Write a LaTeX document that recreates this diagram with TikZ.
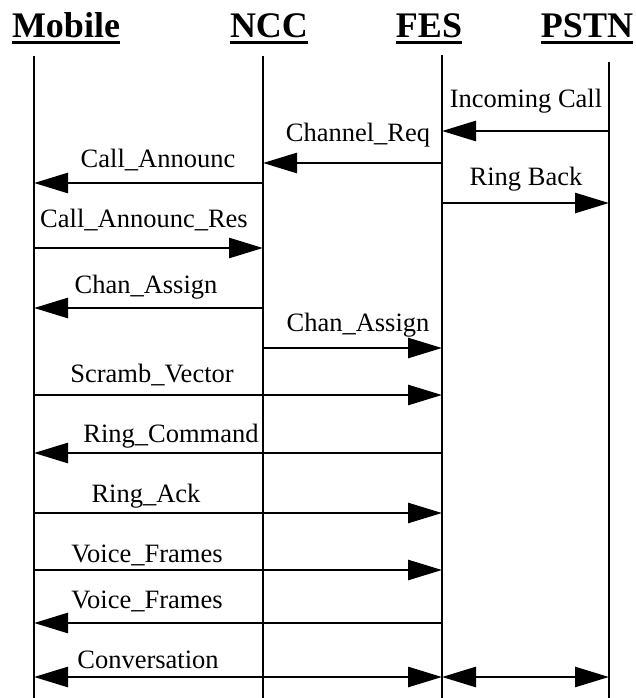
\documentclass[tikz,border=0pt]{standalone}
\usepackage{fontspec}
\setmainfont{Liberation Serif}
\usetikzlibrary{arrows.meta}
\begin{document}
\begin{tikzpicture}[x=1pt,y=-1pt,
  life/.style={line width=2.8pt},
  msg/.style={line width=2.7pt,-{Triangle[length=34pt,width=20pt]}},
  dmsg/.style={line width=2.7pt,{Triangle[length=34pt,width=20pt]}-{Triangle[length=34pt,width=20pt]}},
  lbl/.style={anchor=base,inner sep=0pt,font=\fontsize{26.5}{26.5}\selectfont},
  hdr/.style={anchor=base,inner sep=0pt,font=\fontsize{36}{36}\selectfont\bfseries},
  uline/.style={line width=2.8pt}]
\useasboundingbox (0,0) rectangle (635,698);
% headers
\node[hdr] (hmob) at (66,38) {Mobile};
\node[hdr] (hncc) at (269,38) {NCC};
\node[hdr] (hfes) at (429,38) {FES};
\node[hdr] (hpstn) at (587,38) {PSTN};
\foreach \h in {hmob,hncc,hfes,hpstn}
  \draw[uline] ([yshift=-4.5pt]\h.base west) -- ([yshift=-4.5pt]\h.base east);
% lifelines
\coordinate (tmob) at (34,56);   \coordinate (bmob) at (34,698);
\coordinate (tncc) at (263,56);  \coordinate (bncc) at (263,698);
\coordinate (tfes) at (442,55);  \coordinate (bfes) at (442,698);
\coordinate (tpstn) at (609,62); \coordinate (bpstn) at (609,698);
\draw[life] (tmob) -- (bmob);
\draw[life] (tncc) -- (bncc);
\draw[life] (tfes) -- (bfes);
\draw[life] (tpstn) -- (bpstn);
% rows
\coordinate (r1) at (0,131);
\coordinate (r2) at (0,163);
\coordinate (r3) at (0,183);
\coordinate (r4) at (0,203);
\coordinate (r5) at (0,248);
\coordinate (r6) at (0,308);
\coordinate (r7) at (0,348);
\coordinate (r8) at (0,395);
\coordinate (r9) at (0,453);
\coordinate (r10) at (0,513);
\coordinate (r11) at (0,570);
\coordinate (r12) at (0,623);
\coordinate (r13) at (0,677);
% messages
\draw[msg] (tpstn |- r1) -- (tfes |- r1);
\draw[msg] (tfes |- r2) -- (tncc |- r2);
\draw[msg] (tncc |- r3) -- (tmob |- r3);
\draw[msg] (tfes |- r4) -- (tpstn |- r4);
\draw[msg] (tmob |- r5) -- (tncc |- r5);
\draw[msg] (tncc |- r6) -- (tmob |- r6);
\draw[msg] (tncc |- r7) -- (tfes |- r7);
\draw[msg] (tmob |- r8) -- (tfes |- r8);
\draw[msg] (tfes |- r9) -- (tmob |- r9);
\draw[msg] (tmob |- r10) -- (tfes |- r10);
\draw[msg] (tmob |- r11) -- (tfes |- r11);
\draw[msg] (tfes |- r12) -- (tmob |- r12);
\draw[dmsg] (tmob |- r13) -- (tfes |- r13);
\draw[dmsg] (tfes |- r13) -- (tpstn |- r13);
% labels
\node[lbl] (l1) at (526,107) {Incoming Call};
\node[lbl] (l2) at (358,142) {Channel\_Req};
\node[lbl] (l3) at (158,167) {Call\_Announc};
\node[lbl] (l4) at (526,185) {Ring Back};
\node[lbl] (l5) at (144,227) {Call\_Announc\_Res};
\node[lbl] (l6) at (146,293) {Chan\_Assign};
\node[lbl] (l7) at (358,331) {Chan\_Assign};
\node[lbl] (l8) at (152,382) {Scramb\_Vector};
\node[lbl] (l9) at (171,442) {Ring\_Command};
\node[lbl] (l10) at (146,502) {Ring\_Ack};
\node[lbl] (l11) at (147,562) {Voice\_Frames};
\node[lbl] (l12) at (147,608) {Voice\_Frames};
\node[lbl] (l13) at (148,668) {Conversation};
\end{tikzpicture}
\end{document}
